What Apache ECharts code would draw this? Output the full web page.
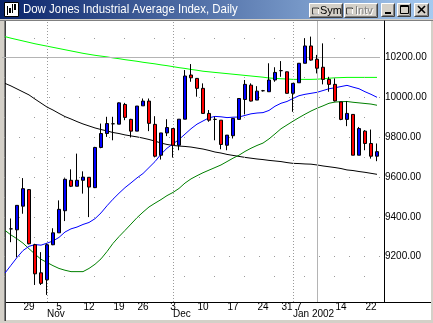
<!DOCTYPE html>
<html><head><meta charset="utf-8">
<script src="https://cdn.jsdelivr.net/npm/echarts@6/dist/echarts.min.js"></script>
<style>html,body{margin:0;padding:0;background:#d4d0c8;overflow:hidden}#c{width:433px;height:323px}</style>
</head><body><div id="c"></div>
<script>
const dates = ['2001-10-23','2001-10-24','2001-10-25','2001-10-26','2001-10-29','2001-10-30','2001-10-31','2001-11-01','2001-11-02','2001-11-05','2001-11-06','2001-11-07','2001-11-08','2001-11-09','2001-11-12','2001-11-13','2001-11-14','2001-11-15','2001-11-16','2001-11-19','2001-11-20','2001-11-21','2001-11-23','2001-11-26','2001-11-27','2001-11-28','2001-11-29','2001-11-30','2001-12-03','2001-12-04','2001-12-05','2001-12-06','2001-12-07','2001-12-10','2001-12-11','2001-12-12','2001-12-13','2001-12-14','2001-12-17','2001-12-18','2001-12-19','2001-12-20','2001-12-21','2001-12-24','2001-12-26','2001-12-27','2001-12-28','2001-12-31','2002-01-02','2002-01-03','2002-01-04','2002-01-07','2002-01-08','2002-01-09','2002-01-10','2002-01-11','2002-01-14','2002-01-15','2002-01-16','2002-01-17','2002-01-18','2002-01-22','2002-01-23'];
const openV  = [null,9340,9335,9454,9537,9260,9119,9084,9260,9320,9431,9584,9554,9584,9599,9547,9749,9819,9868,9866,9965,9890,9831,9958,9982,9865,9710,9822,9844,9760,9891,10113,10096,10046,9920,9890,9886,9760,9808,9890,9990,10062,9987,10034,10029,10088,10135,10129,10021,10074,10172,10259,10192,10152,10091,10066,9978,9890,9915,9710,9831,9769,9705];
const closeV = [null,9340,9458,9542,9265,9114,9066,9260,9320,9438,9589,9554,9584,9600,9550,9749,9819,9869,9868,9973,9900,9831,9957,9982,9870,9705,9822,9849,9760,9891,10108,10099,10046,9920,9886,9890,9764,9811,9895,9995,10066,9982,10032,10034,10088,10126,10135,10021,10071,10172,10259,10188,10147,10091,10066,9983,9890,9920,9710,9844,9769,9705,9728];
const lowV   = [null,9273,9197,9416,9262,9058,9058,9008,9258,9320,9379,9550,9554,9517,9399,9545,9745,9802,9785,9866,9886,9799,9831,9958,9831,9701,9688,9806,9698,9735,9891,10079,10004,9918,9878,9785,9740,9735,9794,9890,9915,9980,9987,10030,10029,10079,10104,10020,9928,10074,10172,10185,10121,10066,10029,9980,9886,9856,9710,9710,9735,9693,9680];
const highV  = [null,9392,9458,9595,9540,9265,9223,9266,9343,9483,9594,9639,9718,9629,9600,9752,9869,9903,9903,9975,9973,9893,9957,9995,9995,9906,9822,9891,9844,9891,10138,10168,10098,10071,9937,9903,9886,9811,9897,9995,10088,10071,10057,10038,10172,10152,10183,10130,10071,10172,10298,10306,10214,10272,10104,10096,9978,9982,9915,9852,9836,9839,9769];
const maBlue = [9118,9157,9196,9231,9252,9261,9258,9268,9279,9297,9324,9340,9349,9362,9372,9391,9420,9456,9489,9519,9547,9571,9596,9618,9648,9678,9715,9745,9767,9789,9816,9843,9866,9882,9898,9905,9903,9899,9901,9902,9910,9918,9922,9924,9935,9956,9971,9980,9995,10009,10016,10021,10026,10035,10044,10049,10055,10061,10052,10044,10029,10016,10001];
const maDarkGreen = [9332,9309,9290,9268,9240,9213,9187,9171,9155,9141,9132,9125,9125,9125,9141,9162,9189,9226,9267,9301,9332,9364,9396,9424,9450,9469,9487,9507,9523,9543,9570,9591,9607,9622,9635,9648,9661,9678,9695,9710,9729,9745,9759,9771,9792,9817,9843,9862,9881,9899,9916,9932,9946,9958,9971,9977,9979,9980,9976,9973,9970,9967,9961];
const maBlack = [10071,10058,10043,10028,10013,9992,9972,9952,9937,9920,9904,9892,9879,9867,9857,9847,9839,9832,9824,9819,9812,9807,9802,9796,9789,9781,9771,9764,9759,9756,9754,9751,9746,9741,9734,9726,9721,9714,9709,9704,9699,9695,9691,9688,9684,9681,9678,9673,9669,9668,9666,9665,9661,9656,9652,9648,9643,9636,9633,9628,9624,9619,9614];
const maLime = [10306,10298,10291,10284,10277,10270,10264,10258,10252,10246,10240,10234,10228,10222,10217,10212,10208,10204,10199,10195,10190,10186,10182,10177,10173,10169,10164,10160,10155,10150,10146,10141,10137,10132,10129,10126,10123,10120,10117,10114,10111,10108,10105,10102,10098,10096,10094,10093,10091,10091,10091,10091,10092,10094,10097,10099,10100,10101,10101,10101,10101,10101,10101];
const weekTicks  = ['2001-10-29','2001-11-05','2001-11-12','2001-11-19','2001-11-26','2001-12-03','2001-12-10','2001-12-17','2001-12-24','2001-12-31','2002-01-07','2002-01-14','2002-01-22'];
const weekLabels = ['29','5','12','19','26','3','10','17','24','31','7','14','22'];
const monthTicks  = ['2001-11-01','2001-12-03','2002-01-02'];
const monthLabels = ['Nov','Dec','Jan 2002'];
const yTicks = [9200,9400,9600,9800,10000,10200];
const majorGrid = [9200,9400,9600,9800,10000];
const minorGrid = [9100,9300,9500,9700,9900,10100,10300];
const crossY = 10200;
const crossX = '2002-01-08';

const FONT = "'Liberation Sans',Arial,sans-serif";
const candleData = dates.map((d,i)=> openV[i]==null ? '-' : [openV[i], closeV[i], lowV[i], highV[i]]);

function bevel(x,y,w,h){
  return [
    {type:'rect', shape:{x:x,y:y,width:w,height:h}, style:{fill:'#d4d0c8'}},
    {type:'polyline', shape:{points:[[x+0.5,y+h-0.5],[x+0.5,y+0.5],[x+w-0.5,y+0.5]]}, style:{stroke:'#ffffff',fill:null,lineWidth:1}},
    {type:'polyline', shape:{points:[[x+0.5,y+h-0.5],[x+w-0.5,y+h-0.5],[x+w-0.5,y+0.5]]}, style:{stroke:'#404040',fill:null,lineWidth:1}},
    {type:'polyline', shape:{points:[[x+1.5,y+h-1.5],[x+w-1.5,y+h-1.5],[x+w-1.5,y+1.5]]}, style:{stroke:'#808080',fill:null,lineWidth:1}}
  ];
}
function checkbox(x,y){
  return [
    {type:'rect', shape:{x:x+0.5,y:y+0.5,width:6,height:6}, style:{fill:'#d4d0c8',stroke:'#404040',lineWidth:1}},
    {type:'polyline', shape:{points:[[x+1.5,y+6.5],[x+6.5,y+6.5],[x+6.5,y+1.5]]}, style:{stroke:'#ffffff',fill:null}}
  ];
}

const gfx = [].concat(
  [
    {type:'rect', shape:{x:6,y:21,width:425,height:299}, style:{fill:'#ffffff'}},
    {type:'line', shape:{x1:4.5,y1:20,x2:4.5,y2:321}, style:{stroke:'#808080',lineWidth:1}},
    {type:'line', shape:{x1:5.5,y1:20,x2:5.5,y2:321}, style:{stroke:'#404040',lineWidth:1}},
    {type:'line', shape:{x1:0,y1:20.5,x2:433,y2:20.5}, style:{stroke:'#808080',lineWidth:1}},
    {type:'line', shape:{x1:6,y1:302.5,x2:431,y2:302.5}, style:{stroke:'#000000',lineWidth:1}},
    {type:'rect', shape:{x:0,y:0,width:433,height:19}, style:{fill:{type:'linear',x:0,y:0,x2:1,y2:0,colorStops:[{offset:0,color:'#0a246a'},{offset:1,color:'#a6caf0'}]}}},
    {type:'rect', shape:{x:4.5,y:2.5,width:14,height:14}, style:{fill:'#ffffff',stroke:'#000000',lineWidth:1}},
    {type:'line', shape:{x1:7.5,y1:6,x2:7.5,y2:15}, style:{stroke:'#000',lineWidth:1}},
    {type:'rect', shape:{x:9,y:8,width:2,height:5}, style:{fill:'#000'}},
    {type:'line', shape:{x1:12.5,y1:4,x2:12.5,y2:13}, style:{stroke:'#000',lineWidth:1}},
    {type:'rect', shape:{x:14,y:4,width:2,height:6}, style:{fill:'#000'}},
    {type:'text', x:23, y:3, scaleX:0.88, style:{text:'Dow Jones Industrial Average Index, Daily', fill:'#ffffff', font:"13px 'Liberation Sans',Arial,sans-serif", textVerticalAlign:'top'}}
  ],
  bevel(309,3,34,15), checkbox(312,7.5),
  [{type:'text', x:320, y:5, style:{text:'Sym', fill:'#000', font:"11px 'Liberation Sans',Arial,sans-serif", textVerticalAlign:'top'}}],
  bevel(344,3,34,15), checkbox(346,7.5),
  [{type:'text', x:356, y:6, style:{text:'Intv', fill:'#ffffff', font:"11px 'Liberation Sans',Arial,sans-serif", textVerticalAlign:'top'}},
   {type:'text', x:355, y:5, style:{text:'Intv', fill:'#808080', font:"11px 'Liberation Sans',Arial,sans-serif", textVerticalAlign:'top'}}],
  bevel(381,3,14,14),
  [{type:'rect', shape:{x:385,y:12,width:6,height:2}, style:{fill:'#000'}}],
  bevel(397,3,14,14),
  [{type:'rect', shape:{x:400.5,y:5.5,width:8,height:8}, style:{fill:null,stroke:'#000',lineWidth:1}},
   {type:'line', shape:{x1:400,y1:6.5,x2:409,y2:6.5}, style:{stroke:'#000',lineWidth:1}}],
  bevel(414,3,15,14),
  [{type:'line', shape:{x1:418,y1:6,x2:425,y2:13}, style:{stroke:'#000',lineWidth:1.6}},
   {type:'line', shape:{x1:425,y1:6,x2:418,y2:13}, style:{stroke:'#000',lineWidth:1.6}}]
);

const gridLines = [].concat(
  minorGrid.map(v=>({yAxis:v, lineStyle:{color:'#9a9a9a', width:1, type:[1,29], dashOffset:-2}})),
  majorGrid.map(v=>({yAxis:v, lineStyle:{color:'#9a9a9a', width:1, type:[1,14], dashOffset:-2}})),
  monthTicks.map(d=>({xAxis:d, lineStyle:{color:'#9a9a9a', width:1, type:[1,2]}})),
  [{yAxis:crossY, lineStyle:{color:'#b4b4b4', width:1, type:'solid'}},
   {xAxis:crossX, lineStyle:{color:'#b4b4b4', width:1, type:'solid'}}]
);

const chart = echarts.init(document.getElementById('c'), null, {renderer:'canvas'});
chart.setOption({
  animation:false,
  backgroundColor:'#d4d0c8',
  graphic:{elements:gfx},
  grid:{left:2, top:21, width:378, height:281},
  xAxis:[
    {type:'category', data:dates, boundaryGap:true, gridIndex:0, position:'bottom',
     axisLine:{show:false}, axisTick:{show:false}, splitLine:{show:false},
     axisLabel:{
       interval:(i,v)=>weekTicks.indexOf(v)>=0,
       formatter:(v)=>{const k=weekTicks.indexOf(v); if(k<0) return ''; return v==='2002-01-07' ? '{s|'+weekLabels[k]+'}' : weekLabels[k];},
       color:'#000', fontSize:10, fontFamily:FONT, margin:0, lineHeight:10,
       rich:{s:{padding:[0,24,0,0], color:'#000', fontSize:10, fontFamily:FONT, lineHeight:10}}
     }},
    {type:'category', data:dates, boundaryGap:true, gridIndex:0, position:'bottom', offset:7,
     axisLine:{show:false}, axisTick:{show:false}, splitLine:{show:false},
     axisLabel:{
       interval:(i,v)=>monthTicks.indexOf(v)>=0,
       formatter:(v)=>{const k=monthTicks.indexOf(v); return k<0?'':monthLabels[k];},
       align:'left', color:'#000', fontSize:10, fontFamily:FONT, margin:0, lineHeight:10
     }}
  ],
  yAxis:{type:'value', position:'right', offset:4, min:8972.4, max:10384.4, scale:true,
     axisLine:{show:true, lineStyle:{color:'#000', width:1}}, axisTick:{show:false}, splitLine:{show:false},
     axisLabel:{customValues:yTicks, formatter:(v)=>v.toFixed(2), color:'#000', fontSize:10, fontFamily:FONT, margin:1}},
  series:[
    {type:'line', name:'lime', data:maLime, symbol:'none', z:2, lineStyle:{color:'#00ff00', width:1}, silent:true,
     markLine:{silent:true, symbol:['none','none'], label:{show:false}, data:gridLines}},
    {type:'line', name:'black', data:maBlack, symbol:'none', z:3, lineStyle:{color:'#000000', width:1}, silent:true},
    {type:'line', name:'dkgreen', data:maDarkGreen, symbol:'none', z:3, lineStyle:{color:'#008000', width:1}, silent:true},
    {type:'line', name:'blue', data:maBlue, symbol:'none', z:3, lineStyle:{color:'#0000ff', width:1}, silent:true},
    {type:'candlestick', data:candleData, barWidth:4, z:5, silent:true,
     itemStyle:{color:'#0000ff', color0:'#ff0000', borderColor:'#000000', borderColor0:'#000000', borderColorDoji:'#000000', borderWidth:1}}
  ]
});
</script>
</body></html>
